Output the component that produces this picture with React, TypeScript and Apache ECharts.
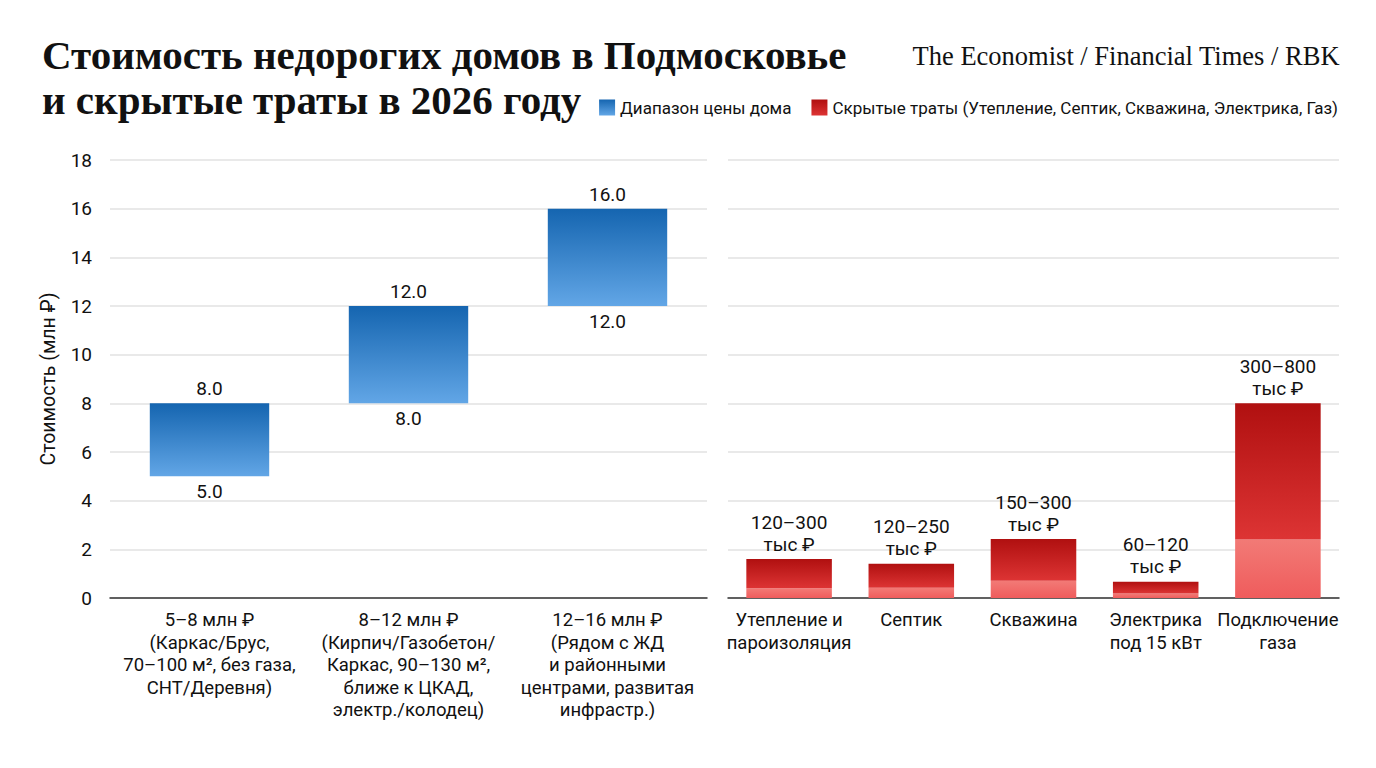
import React, { useEffect, useRef } from "react";
import * as echarts from "echarts";

const titleText = "Стоимость недорогих домов в Подмосковье\nи скрытые траты в 2026 году";
const sourceText = "The Economist / Financial Times / RBK";
const yAxisName = "Стоимость (млн ₽)";

const priceCategories = [
  "5–8 млн ₽\n(Каркас/Брус,\n70–100 м², без газа,\nСНТ/Деревня)",
  "8–12 млн ₽\n(Кирпич/Газобетон/\nКаркас, 90–130 м²,\nближе к ЦКАД,\nэлектр./колодец)",
  "12–16 млн ₽\n(Рядом с ЖД\nи районными\nцентрами, развитая\nинфрастр.)",
];
const priceLow = [5, 8, 12];
const priceHigh = [8, 12, 16];

const costCategories = [
  "Утепление и\nпароизоляция",
  "Септик",
  "Скважина",
  "Электрика\nпод 15 кВт",
  "Подключение\nгаза",
];
const costLower = [0.4, 0.42, 0.71, 0.18, 2.4];
const costTotal = [1.6, 1.41, 2.42, 0.67, 8.0];
const costRangeLabels = ["120–300\nтыс ₽", "120–250\nтыс ₽", "150–300\nтыс ₽", "60–120\nтыс ₽", "300–800\nтыс ₽"];

const seriesPriceName = "Диапазон цены дома";
const seriesCostName = "Скрытые траты (Утепление, Септик, Скважина, Электрика, Газ)";

const FONT = "Roboto, 'Noto Sans', sans-serif";

export default function App() {
  const ref = useRef<HTMLDivElement>(null);
  useEffect(() => {
    document.body.style.margin = "0";
    if (!ref.current) return;
    const chart = echarts.init(ref.current, null, { renderer: "svg" });

    const blue = new echarts.graphic.LinearGradient(0, 0, 0, 1, [
      { offset: 0, color: "#1565b0" },
      { offset: 1, color: "#62a6e6" },
    ]);
    const darkRed = new echarts.graphic.LinearGradient(0, 0, 0, 1, [
      { offset: 0, color: "#b01010" },
      { offset: 1, color: "#dd3434" },
    ]);
    const lightRed = new echarts.graphic.LinearGradient(0, 0, 0, 1, [
      { offset: 0, color: "#f27a76" },
      { offset: 1, color: "#ef5c5c" },
    ]);

    const priceSpan = priceHigh.map((h, i) => h - priceLow[i]);
    const costUpper = costTotal.map((t, i) => +(t - costLower[i]).toFixed(3));

    const splitLine = { show: true, lineStyle: { color: "#e2e2e2", width: 1.5 } };
    const axisLine = { show: true, lineStyle: { color: "#333", width: 1.5 } };
    const xLabel = {
      fontFamily: FONT,
      fontSize: 18.5,
      lineHeight: 22.5,
      color: "#111",
      margin: 11,
      interval: 0,
      verticalAlign: "top",
    };

    chart.setOption({
      animation: false,
      backgroundColor: "#fff",
      title: [
        {
          text: titleText,
          left: 37,
          top: 27,
          textStyle: {
            fontFamily: "'Liberation Serif', serif",
            fontWeight: "bold",
            fontSize: 41,
            lineHeight: 45.5,
            color: "#111",
          },
        },
        {
          text: sourceText,
          right: 31,
          top: 37,
          textStyle: {
            fontFamily: "'Liberation Serif', serif",
            fontWeight: "normal",
            fontSize: 26.5,
            color: "#111",
          },
        },
      ],
      legend: {
        right: 33,
        top: 94,
        itemWidth: 16,
        itemHeight: 16,
        itemGap: 20,
        icon: "rect",
        data: [seriesPriceName, seriesCostName],
        textStyle: { fontFamily: FONT, fontSize: 17, color: "#111" },
      },
      grid: [
        { left: 110, top: 160, width: 597, height: 438 },
        { left: 728, top: 160, width: 611, height: 438 },
      ],
      xAxis: [
        {
          type: "category",
          gridIndex: 0,
          data: priceCategories,
          axisLine,
          axisTick: { show: false },
          axisLabel: xLabel,
        },
        {
          type: "category",
          gridIndex: 1,
          data: costCategories,
          axisLine,
          axisTick: { show: false },
          axisLabel: xLabel,
        },
      ],
      yAxis: [
        {
          type: "value",
          gridIndex: 0,
          min: 0,
          max: 18,
          interval: 2,
          name: yAxisName,
          nameLocation: "middle",
          nameGap: 52,
          nameTextStyle: { fontFamily: FONT, fontSize: 19.5, color: "#111" },
          axisLine: { show: false },
          axisTick: { show: false },
          axisLabel: { fontFamily: FONT, fontSize: 19, color: "#111", margin: 18 },
          splitLine,
        },
        {
          type: "value",
          gridIndex: 1,
          min: 0,
          max: 18,
          interval: 2,
          axisLine: { show: false },
          axisTick: { show: false },
          axisLabel: { show: false },
          splitLine,
        },
      ],
      series: [
        {
          name: "base",
          type: "bar",
          xAxisIndex: 0,
          yAxisIndex: 0,
          stack: "price",
          barWidth: "60%",
          data: priceLow,
          itemStyle: { color: "rgba(0,0,0,0)" },
          label: {
            show: true,
            position: "insideTop",
            distance: 6,
            fontFamily: FONT,
            fontSize: 19,
            color: "#111",
            formatter: (p: any) => priceLow[p.dataIndex].toFixed(1),
          },
          emphasis: { disabled: true },
          silent: true,
        },
        {
          name: seriesPriceName,
          type: "bar",
          xAxisIndex: 0,
          yAxisIndex: 0,
          stack: "price",
          barWidth: "60%",
          data: priceSpan,
          itemStyle: { color: blue },
          label: {
            show: true,
            position: "top",
            distance: 5,
            fontFamily: FONT,
            fontSize: 19,
            color: "#111",
            formatter: (p: any) => priceHigh[p.dataIndex].toFixed(1),
          },
        },
        {
          name: "lower",
          type: "bar",
          xAxisIndex: 1,
          yAxisIndex: 1,
          stack: "cost",
          barWidth: "70%",
          data: costLower,
          itemStyle: { color: lightRed },
        },
        {
          name: seriesCostName,
          type: "bar",
          xAxisIndex: 1,
          yAxisIndex: 1,
          stack: "cost",
          barWidth: "70%",
          data: costUpper,
          itemStyle: { color: darkRed },
          label: {
            show: true,
            position: "top",
            distance: 4,
            fontFamily: FONT,
            fontSize: 19,
            lineHeight: 22,
            color: "#111",
            formatter: (p: any) => costRangeLabels[p.dataIndex],
          },
        },
      ],
    });
    return () => chart.dispose();
  }, []);
  return <div ref={ref} style={{ width: 1376, height: 768 }} />;
}
